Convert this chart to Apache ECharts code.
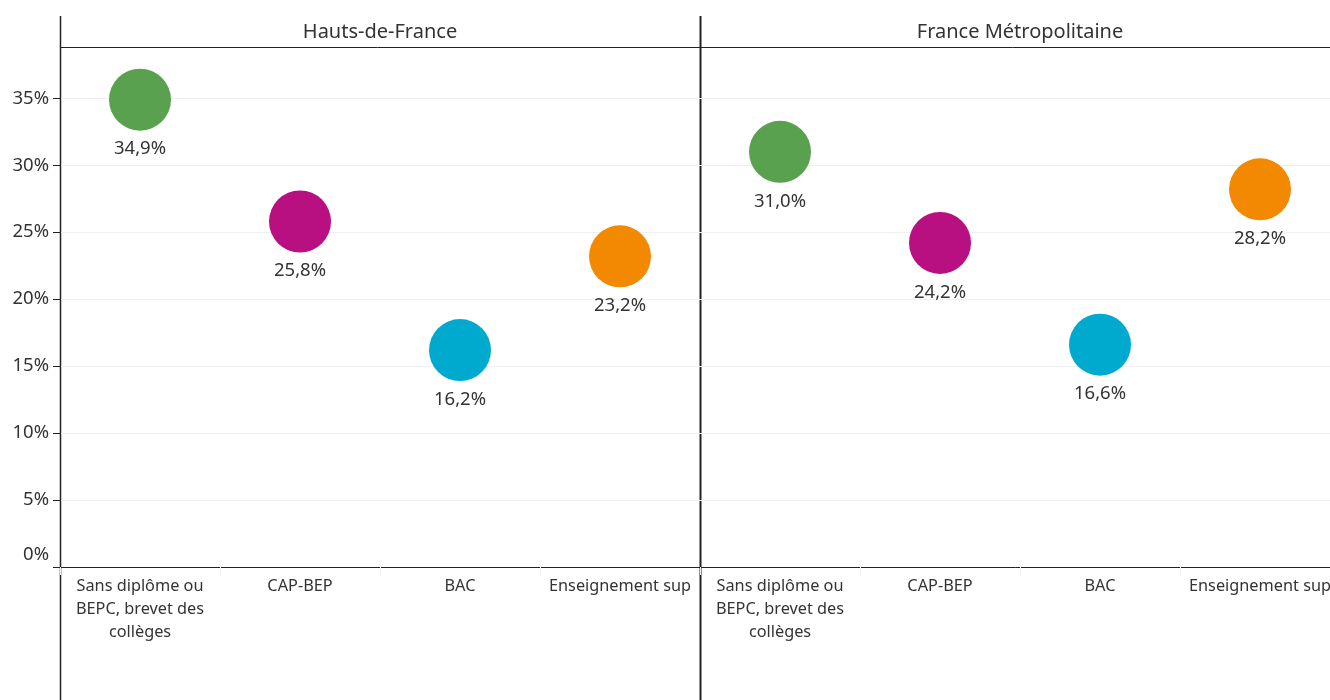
<!DOCTYPE html>
<html>
<head>
<meta charset="utf-8">
<script src="https://cdn.jsdelivr.net/npm/echarts@6/dist/echarts.min.js"></script>
<style>
  html, body { margin: 0; padding: 0; background: #fff; }
  #chart { width: 1330px; height: 700px; }
</style>
</head>
<body>
<div id="chart"></div>
<script>
// diploma categories (tick labels wrapped like the original)
const categories = ['Sans diplôme ou BEPC, brevet des collèges', 'CAP-BEP', 'BAC', 'Enseignement sup']
const categoryLabels = ['Sans diplôme ou\nBEPC, brevet des\ncollèges', 'CAP-BEP', 'BAC', 'Enseignement sup']
const regions = ['Hauts-de-France', 'France Métropolitaine']
const hautsDeFrance = [34.9, 25.8, 16.2, 23.2]
const franceMetro = [31.0, 24.2, 16.6, 28.2]
const colors = ['#5aa14f', '#b80f81', '#00a9ce', '#f28900']
const yTicks = [0, 5, 10, 15, 20, 25, 30, 35]

const FONT = '"Noto Sans", Lato, sans-serif'
const TEXT = '#333'
const LINE = '#222'

const chart = echarts.init(document.getElementById('chart'))

// second panel runs a little past the right edge, like the original
const grids = [
  { left: 60, top: 47, width: 640, height: 520, outerBoundsMode: 'none' },
  { left: 700, top: 47, width: 640, height: 520, outerBoundsMode: 'none' },
]

const xAxes = grids.map((g, i) => ({
  type: 'category',
  gridIndex: i,
  data: categories,
  axisLine: { lineStyle: { color: LINE, width: 1 } },
  axisTick: { show: true, length: 8, lineStyle: { color: '#eeeeee' } },
  axisLabel: {
    interval: 0,
    margin: 8,
    color: TEXT,
    fontFamily: FONT,
    fontSize: 16.3,
    lineHeight: 23,
    formatter: (v) => categoryLabels[categories.indexOf(v)],
  },
}))

const yAxes = grids.map((g, i) => ({
  type: 'value',
  gridIndex: i,
  min: 0,
  max: 38.83,
  interval: 5,
  axisLine: { show: i === 0, lineStyle: { color: LINE } },
  axisTick: {
    show: i === 0,
    length: 7,
    customValues: yTicks,
    lineStyle: { color: LINE },
  },
  axisLabel: {
    show: i === 0,
    margin: 11,
    color: TEXT,
    fontFamily: FONT,
    fontSize: 18.5,
    customValues: yTicks,
    formatter: (v) => (v === 0 ? '{z|0%}' : v + '%'),
    rich: { z: { color: TEXT, fontFamily: FONT, fontSize: 18.5, padding: [0, 0, 24, 0] } },
  },
  splitLine: { show: true, lineStyle: { color: '#f0f0f0', width: 1 } },
}))

const makeSeries = (values, idx) => ({
  type: 'scatter',
  xAxisIndex: idx,
  yAxisIndex: idx,
  symbolSize: 62,
  data: values.map((v, k) => ({ value: [categories[k], v], itemStyle: { color: colors[k], opacity: 1 } })),
  label: {
    show: true,
    position: 'bottom',
    distance: 9,
    color: TEXT,
    fontFamily: FONT,
    fontSize: 18.5,
    formatter: (p) => p.value[1].toFixed(1).replace('.', ',') + '%',
  },
  emphasis: { disabled: true },
})

const option = {
  animation: false,
  grid: grids,
  xAxis: xAxes,
  yAxis: yAxes,
  series: [makeSeries(hautsDeFrance, 0), makeSeries(franceMetro, 1)],
  graphic: [
    // panel header row and frame lines
    { type: 'line', shape: { x1: 60, y1: 47.5, x2: 1330, y2: 47.5 }, style: { stroke: LINE, lineWidth: 1 } },
    { type: 'line', shape: { x1: 60.5, y1: 16, x2: 60.5, y2: 700 }, style: { stroke: LINE, lineWidth: 1.5 } },
    { type: 'line', shape: { x1: 700.5, y1: 16, x2: 700.5, y2: 700 }, style: { stroke: LINE, lineWidth: 2 } },
    {
      type: 'text', x: 380, y: 32,
      style: { text: regions[0], fill: TEXT, font: '20px ' + FONT, textAlign: 'center', textVerticalAlign: 'middle' },
    },
    {
      type: 'text', x: 1020, y: 32,
      style: { text: regions[1], fill: TEXT, font: '20px ' + FONT, textAlign: 'center', textVerticalAlign: 'middle' },
    },
  ],
}

chart.setOption(option)
</script>
</body>
</html>
